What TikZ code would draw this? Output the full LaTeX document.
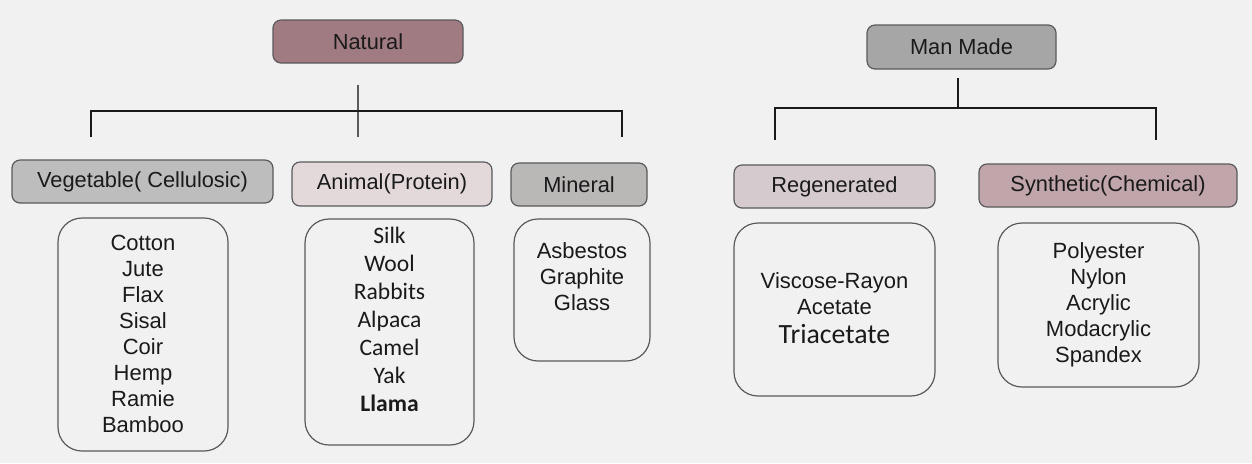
\documentclass[tikz,border=0pt]{standalone}
\usepackage{fontspec}
\setmainfont{Liberation Sans}
\newfontfamily\calfont{Carlito}
\usepackage{tikz}
\usetikzlibrary{positioning}
\definecolor{paper}{HTML}{F1F1F1}
\definecolor{edge}{HTML}{5A5A5A}
\definecolor{ink}{HTML}{1A1A1A}
\definecolor{natural}{HTML}{A07B82}
\definecolor{manmade}{HTML}{A6A6A6}
\definecolor{veg}{HTML}{BDBDBD}
\definecolor{animal}{HTML}{E3D9DB}
\definecolor{mineral}{HTML}{BAB7B7}
\definecolor{regen}{HTML}{D5CBCE}
\definecolor{synth}{HTML}{C0A5AA}

\begin{document}
\begin{tikzpicture}[x=0.5pt,y=-0.5pt,font=\fontsize{10.9}{13}\selectfont,text=ink,
  head/.style={draw=edge,line width=0.6pt,rounded corners=4pt,inner sep=0pt,minimum height=21.5pt},
  listbox/.style={draw=edge,line width=0.6pt,rounded corners=12pt,inner sep=0pt},
  items/.style={align=center,inner sep=0pt,font=\fontsize{11}{13}\selectfont},
  wire/.style={draw=ink,line width=0.75pt}]
\fill[paper] (0,0) rectangle (1252,463);
% headings
\node[head,fill=natural,minimum width=95pt] (natural) at (368,41.5) {Natural};
\node[head,fill=manmade,minimum width=94.5pt,minimum height=22pt] (manmade) at (961.5,47) {Man Made};
\node[head,fill=veg,minimum width=130.5pt] (vegetable) at (142.5,181.5) {Vegetable( Cellulosic)};
\node[head,fill=animal,minimum width=100pt,minimum height=22pt] (animal) at (392,184) {Animal(Protein)};
\node[head,fill=mineral,minimum width=68pt] (mineral) at (579,184.5) {Mineral};
\node[head,fill=regen,minimum width=100.5pt] (regenerated) at (834.5,186.5) {Regenerated};
\node[head,fill=synth,minimum width=129pt] (synthetic) at (1108,185.5) {Synthetic(Chemical)};
% lists
\node[listbox,minimum width=85pt,minimum height=116.5pt] (vegbox) at (143,334.5) {};
\node[items] (vegitems) at (143,334) {Cotton\\Jute\\Flax\\Sisal\\Coir\\Hemp\\Ramie\\Bamboo};
\node[listbox,minimum width=84.5pt,minimum height=113pt] (animalbox) at (389.5,332) {};
\node[items,font=\calfont\fontsize{11.8}{14}\selectfont] (animalitems) at (389.5,319) {Silk\\Wool\\Rabbits\\Alpaca\\Camel\\Yak\\\textbf{Llama}};
\node[listbox,minimum width=68pt,minimum height=71pt] (mineralbox) at (582,290) {};
\node[items] (mineralitems) at (582,277) {Asbestos\\Graphite\\Glass};
\node[listbox,minimum width=100.5pt,minimum height=86.5pt] (regenbox) at (834.5,309.5) {};
\node[items] (regenitems) at (834.5,308) {Viscose-Rayon\\Acetate\\[1.5pt]{\calfont\fontsize{13.9}{15}\selectfont Triacetate}};
\node[listbox,minimum width=100.5pt,minimum height=82pt] (synthbox) at (1098.5,305) {};
\node[items] (synthitems) at (1098.5,305) {Polyester\\Nylon\\Acrylic\\Modacrylic\\Spandex};
% connectors
\coordinate (nattop) at (358,85); \coordinate (natbot) at (358,137); \coordinate (natjoin) at (358,111);
\coordinate (vegdrop) at (91,137); \coordinate (mindrop) at (622,137);
\draw[wire,draw=edge] (nattop) -- (natbot);
\draw[wire] (vegdrop) |- (natjoin) -| (mindrop);
\coordinate (mantop) at (958,78); \coordinate (manjoin) at (958,108);
\coordinate (regdrop) at (775,140); \coordinate (syndrop) at (1156,140);
\draw[wire] (mantop) -- (manjoin);
\draw[wire] (regdrop) |- (manjoin) -| (syndrop);
\end{tikzpicture}
\end{document}
